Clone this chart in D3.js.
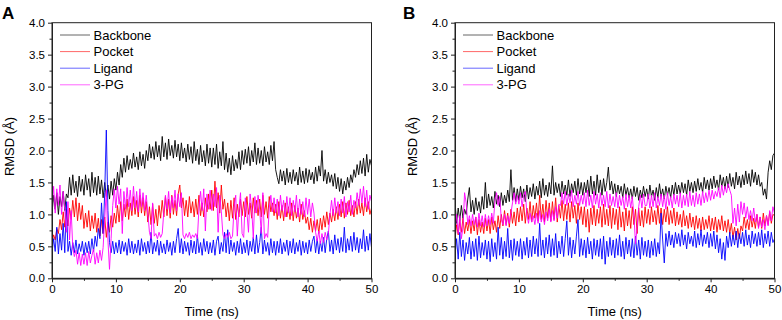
<!DOCTYPE html>
<html><head><meta charset="utf-8">
<script src="https://cdn.jsdelivr.net/npm/d3@7"></script>
<style>
body{margin:0;background:#fff}
svg{display:block}
text{font-family:"Liberation Sans",Arial,Helvetica,sans-serif;fill:#000}
</style>
</head><body>
<svg id="chart" width="782" height="320"></svg>
<script>
// ---------------- DATA ----------------
const seriesNames = ["Backbone", "Pocket", "Ligand", "3-PG"];
const seriesColors = ["#000000", "#ff0000", "#0000ff", "#ff00ff"];
const panelLabels = ["A", "B"];
const xTickValues = [0, 10, 20, 30, 40, 50];
const xMinorTicks = [5, 15, 25, 35, 45];
const yTickValues = [0, 0.5, 1.0, 1.5, 2.0, 2.5, 3.0, 3.5, 4.0];
const yMinorTicks = [0.25, 0.75, 1.25, 1.75, 2.25, 2.75, 3.25, 3.75];
const timeStart = 0, timeEnd = 50;   // ns, samples evenly spaced (0.25 ns)

// Panel A
const aBackbone = [
1.02,1.30,1.08,1.34,1.00,1.28,1.12,1.36,1.06,1.32,
1.26,1.58,1.30,1.62,1.34,1.52,1.28,1.60,1.36,1.55,
1.30,1.62,1.38,1.56,1.28,1.66,1.34,1.58,1.30,1.60,
1.32,1.54,1.26,1.50,1.28,1.46,1.24,1.52,1.30,1.56,
1.38,1.66,1.46,1.78,1.58,1.88,1.66,1.92,1.70,1.86,
1.72,1.96,1.74,1.90,1.70,1.98,1.76,1.94,1.72,2.00,
1.84,2.10,1.88,2.06,1.86,2.14,1.90,2.08,1.84,2.22,
1.90,2.12,1.86,2.18,1.92,2.08,1.88,2.16,1.90,2.10,
1.84,2.12,1.88,2.04,1.82,2.10,1.86,2.06,1.80,2.14,
1.84,2.02,1.78,2.08,1.82,2.00,1.76,2.10,1.80,2.04,
1.74,2.04,1.78,2.10,1.72,1.98,1.76,2.14,1.70,1.96,
1.66,1.88,1.62,1.92,1.68,1.86,1.72,1.98,1.70,2.00,
1.78,2.02,1.80,2.06,1.76,2.00,1.82,2.12,1.78,2.04,
1.80,2.00,1.76,2.06,1.82,1.98,1.78,2.08,1.84,2.14,
1.70,1.58,1.48,1.70,1.52,1.68,1.46,1.72,1.50,1.66,
1.48,1.70,1.52,1.66,1.46,1.74,1.50,1.68,1.48,1.72,
1.50,1.70,1.54,1.66,1.48,1.74,1.52,1.76,1.60,2.00,
1.52,1.70,1.48,1.66,1.50,1.62,1.44,1.64,1.40,1.58,
1.36,1.56,1.32,1.52,1.38,1.58,1.42,1.62,1.50,1.70,
1.58,1.78,1.62,1.84,1.64,1.88,1.60,1.94,1.66,1.86,
1.76];
const aPocket = [
0.55,0.68,0.60,0.78,0.70,0.92,0.76,1.04,0.80,1.08,
0.82,1.10,0.92,1.22,0.96,1.26,0.90,1.18,0.92,1.14,
0.78,1.02,0.80,1.06,0.74,0.98,0.78,1.02,0.72,0.94,
0.66,0.92,0.70,0.96,0.64,0.88,0.72,0.98,0.80,1.02,
0.86,1.14,0.88,1.20,0.90,1.16,0.96,1.24,0.92,1.18,
0.98,1.28,1.00,1.22,0.96,1.30,1.02,1.26,0.98,1.20,
0.88,1.12,0.84,1.16,0.86,1.08,0.82,1.14,0.94,1.22,
0.96,1.28,0.98,1.24,0.94,1.30,1.00,1.22,0.98,1.32,
1.46,1.10,1.26,0.98,1.22,0.96,1.28,1.02,1.20,0.96,
1.24,1.00,1.30,0.98,1.18,0.96,1.26,1.04,1.32,1.08,
1.38,1.06,1.52,1.10,1.34,1.02,1.46,1.08,1.24,0.96,
1.18,0.90,1.22,0.94,1.26,0.92,1.16,0.96,1.24,0.98,
1.20,0.96,1.28,1.00,1.18,0.94,1.26,1.02,1.22,0.98,
1.24,0.96,1.30,1.00,1.20,0.94,1.28,1.04,1.18,0.98,
1.16,0.92,1.20,0.94,1.14,0.90,1.18,0.96,1.12,0.92,
1.18,0.90,1.14,0.94,1.10,0.88,1.16,0.92,1.06,0.86,
0.96,0.76,0.94,0.72,0.90,0.74,0.92,0.70,0.94,0.76,
0.98,0.80,1.04,0.84,1.02,0.88,1.08,0.90,1.12,0.92,
1.16,0.96,1.20,0.94,1.18,1.00,1.22,0.98,1.14,0.96,
1.20,1.00,1.24,1.02,1.18,0.98,1.26,1.04,1.20,1.00,
1.10];
const aLigand = [
0.40,0.62,0.42,0.80,0.38,0.70,0.44,0.86,0.40,1.20,
0.42,0.58,0.36,0.56,0.40,0.60,0.38,0.54,0.42,0.58,
0.36,0.56,0.40,0.58,0.38,0.62,0.42,0.66,0.50,0.78,
0.62,1.18,0.70,1.34,2.32,1.06,0.56,0.40,0.58,0.38,
0.56,0.40,0.60,0.38,0.58,0.42,0.56,0.36,0.62,0.40,
0.58,0.38,0.54,0.40,0.60,0.36,0.62,0.42,0.56,0.38,
0.58,0.40,0.72,0.38,0.56,0.42,0.60,0.36,0.58,0.40,
0.54,0.38,0.60,0.42,0.56,0.36,0.58,0.40,0.62,0.78,
0.40,0.62,0.38,0.58,0.42,0.56,0.36,0.60,0.40,0.58,
0.38,0.68,0.40,0.56,0.36,0.62,0.42,0.58,0.38,0.56,
0.40,0.60,0.36,0.58,0.66,0.38,0.56,0.42,0.72,0.40,
0.76,0.38,0.60,0.42,0.56,0.36,0.58,0.40,0.62,0.38,
0.56,0.40,0.60,0.36,0.58,0.42,0.64,0.38,0.68,0.40,
0.56,0.80,0.38,0.60,0.42,0.56,0.36,0.62,0.40,0.58,
0.36,0.58,0.40,0.62,0.38,0.56,0.42,0.60,0.36,0.58,
0.40,0.62,0.38,0.56,0.42,0.60,0.36,0.58,0.40,0.56,
0.38,0.60,0.42,0.58,0.66,0.40,0.62,0.38,0.58,0.42,
0.64,0.40,0.62,0.74,0.42,0.60,0.38,0.68,0.44,0.62,
0.40,0.64,0.42,0.80,0.40,0.62,0.44,0.66,0.42,0.72,
0.44,0.64,0.40,0.62,0.46,0.76,0.42,0.66,0.44,0.70,
0.48];
const aPG = [
1.10,1.44,1.02,1.40,1.14,1.46,1.00,1.36,1.08,0.72,
1.20,0.60,1.06,0.48,0.34,0.44,0.22,0.40,0.20,0.38,
0.22,0.40,0.20,0.42,0.24,0.36,0.46,0.22,0.40,0.24,
0.44,0.28,0.48,0.94,1.38,0.60,0.14,0.62,1.14,1.40,
1.10,1.44,1.16,1.40,0.70,1.36,1.08,1.42,1.12,1.38,
1.06,1.44,1.10,1.36,1.04,1.40,1.12,1.34,1.06,1.30,
1.02,0.72,0.62,1.18,0.66,0.70,0.62,0.72,0.64,0.70,
1.04,1.30,1.08,1.36,1.02,1.28,1.10,1.38,1.06,1.32,
1.12,1.34,0.68,0.62,0.70,0.64,0.72,0.62,0.68,0.64,
0.70,0.62,1.10,1.36,1.06,1.40,0.74,1.32,1.08,1.38,
1.06,1.32,1.12,1.42,0.72,1.30,1.04,0.68,0.62,0.70,
0.64,0.72,0.62,0.66,1.12,1.30,0.66,1.08,1.34,0.70,
0.64,1.26,1.04,0.72,1.32,1.10,0.62,1.28,1.02,1.30,
1.08,0.70,1.34,0.62,0.70,0.64,1.10,1.30,1.04,1.26,
1.02,1.24,0.98,1.30,1.06,1.22,0.96,1.28,1.02,1.26,
0.98,1.22,1.04,1.30,0.96,1.24,1.00,1.20,0.96,1.26,
1.00,1.24,0.96,1.18,1.02,0.72,0.58,0.74,0.54,0.70,
0.56,0.72,0.60,0.70,1.00,1.22,0.98,1.26,1.02,1.20,
0.98,1.24,1.02,1.28,0.96,1.20,1.04,1.30,1.00,1.22,
1.10,1.34,1.14,1.40,1.18,1.44,1.12,1.38,1.08,1.30,
1.20];

// Panel B
const bBackbone = [
1.20,0.86,1.10,0.90,1.14,0.94,1.08,1.00,1.24,1.42,
1.04,1.22,1.00,1.26,1.06,1.20,1.02,1.28,1.08,1.50,
1.10,1.32,1.14,1.28,1.10,1.36,1.16,1.30,1.12,1.34,
1.14,1.30,1.18,1.38,1.20,1.70,1.22,1.42,1.20,1.40,
1.22,1.44,1.26,1.40,1.20,1.46,1.24,1.42,1.28,1.48,
1.24,1.44,1.30,1.52,1.26,1.56,1.30,1.46,1.28,1.50,
1.32,1.76,1.30,1.50,1.34,1.48,1.28,1.52,1.32,1.46,
1.30,1.54,1.28,1.48,1.34,1.52,1.30,1.56,1.32,1.50,
1.30,1.50,1.34,1.54,1.28,1.60,1.32,1.52,1.30,1.62,
1.34,1.54,1.30,1.56,1.36,1.50,1.74,1.38,1.52,1.32,
1.48,1.28,1.46,1.32,1.44,1.26,1.48,1.30,1.42,1.26,
1.40,1.24,1.44,1.28,1.42,1.22,1.38,1.26,1.44,1.28,
1.40,1.24,1.46,1.28,1.38,1.22,1.42,1.26,1.48,1.28,
1.40,1.24,1.44,1.30,1.42,1.26,1.46,1.30,1.50,1.32,
1.46,1.32,1.50,1.34,1.48,1.30,1.54,1.36,1.50,1.34,
1.52,1.36,1.56,1.38,1.50,1.34,1.58,1.40,1.54,1.38,
1.56,1.40,1.60,1.42,1.54,1.38,1.62,1.44,1.58,1.40,
1.60,1.42,1.64,1.44,1.58,1.40,1.66,1.46,1.60,1.42,
1.62,1.46,1.68,1.48,1.64,1.44,1.70,1.50,1.66,1.46,
1.62,1.44,1.50,1.30,1.40,1.24,1.66,1.84,1.70,1.92,
1.96];
const bPocket = [
0.62,0.84,0.68,0.90,0.72,0.94,0.70,0.88,0.74,0.92,
0.70,0.90,0.74,0.96,0.68,0.92,0.72,0.88,0.70,0.94,
0.74,0.92,0.70,0.96,0.76,0.90,0.72,0.98,0.78,1.00,
0.82,1.06,0.84,1.02,0.80,1.08,0.86,1.04,0.82,1.10,
0.88,1.12,0.90,1.16,0.86,1.10,0.92,1.20,0.88,1.14,
0.94,1.18,0.90,1.30,0.92,1.16,0.88,1.22,0.94,1.18,
0.90,1.20,0.92,1.26,0.88,1.14,0.94,1.22,0.90,1.16,
0.92,1.18,0.88,1.20,0.94,1.14,0.86,1.18,0.92,1.12,
0.84,1.12,0.80,1.08,0.72,1.10,0.84,1.14,0.82,1.08,
0.86,1.12,0.80,1.16,0.84,1.08,0.82,1.14,0.78,1.10,
0.84,1.08,0.76,1.12,0.80,1.04,0.74,1.10,0.82,1.06,
0.78,1.12,0.84,1.08,0.70,1.10,0.82,1.06,0.80,1.12,
0.86,1.08,0.84,1.12,0.88,1.06,0.84,1.14,0.86,1.10,
0.84,1.08,0.88,1.12,0.84,1.06,0.86,1.10,0.82,1.04,
0.84,1.00,0.80,1.06,0.82,0.98,0.78,1.02,0.80,0.96,
0.76,0.98,0.78,0.94,0.74,0.96,0.76,0.92,0.78,0.98,
0.74,0.94,0.76,0.96,0.72,0.92,0.76,0.98,0.74,0.90,
0.72,0.92,0.70,0.86,0.64,0.80,0.60,0.78,0.62,0.82,
0.74,0.96,0.78,0.92,0.76,0.98,0.80,0.94,0.78,1.00,
0.80,0.96,0.78,1.02,0.82,0.98,0.84,1.04,0.86,1.00,
0.98];
const bLigand = [
0.36,0.62,0.30,0.72,0.34,0.60,0.28,0.56,0.38,0.64,
0.30,0.58,0.34,0.62,0.28,0.66,0.32,0.56,0.36,0.60,
0.30,0.58,0.26,0.62,0.34,0.56,0.30,0.80,0.36,0.64,
0.30,0.58,0.34,0.78,0.32,0.60,0.28,0.62,0.36,0.58,
0.34,0.62,0.30,0.58,0.36,0.64,0.32,0.60,0.34,0.66,
0.38,0.62,0.34,0.86,0.36,0.60,0.32,0.64,0.38,0.68,
0.34,0.62,0.36,0.70,0.32,0.58,0.38,0.66,0.34,0.62,
0.90,0.36,0.64,0.32,0.60,0.38,0.66,0.92,0.34,0.62,
0.36,0.60,0.32,0.64,0.38,0.58,0.30,0.62,0.36,0.60,
0.34,0.62,0.30,0.66,0.22,0.58,0.34,0.64,0.36,0.60,
0.32,0.62,0.36,0.68,0.34,0.58,0.30,0.64,0.38,0.60,
0.34,0.62,0.32,0.66,0.36,0.60,0.30,0.64,0.36,0.58,
0.34,0.60,0.32,0.58,0.36,0.62,0.34,0.56,0.38,1.02,
0.60,0.24,0.70,0.50,0.74,0.52,0.68,0.48,0.72,0.54,
0.70,0.50,0.76,0.52,0.68,0.46,0.72,0.54,0.66,0.50,
0.74,0.48,0.70,0.52,0.76,0.50,0.68,0.54,0.72,0.48,
0.70,0.50,0.74,0.46,0.68,0.40,0.62,0.30,0.56,0.28,
0.66,0.48,0.72,0.50,0.68,0.52,0.74,0.48,0.70,0.54,
0.72,0.50,0.76,0.52,0.68,0.48,0.74,0.54,0.70,0.50,
0.72,0.52,0.76,0.48,0.70,0.54,0.74,0.50,0.72,0.56,
0.62];
const bPG = [
0.74,1.00,0.70,0.98,0.62,0.80,1.34,1.18,0.84,0.98,
0.82,1.00,0.84,0.96,0.80,1.02,0.82,0.98,0.80,1.00,
0.82,0.98,0.84,1.02,0.86,1.22,1.34,1.14,1.28,0.92,
0.84,1.00,0.82,0.98,0.86,1.02,1.18,1.34,1.16,1.30,
1.16,1.34,1.12,1.30,1.36,1.00,0.86,1.02,0.88,0.98,
0.84,1.02,0.86,1.06,0.88,1.00,0.84,1.04,0.90,1.08,
0.88,1.06,0.90,1.12,0.94,1.16,1.14,1.34,1.16,1.36,
1.14,1.32,1.18,1.38,1.12,1.30,1.16,1.36,1.14,1.30,
1.16,1.34,1.12,1.38,1.14,1.30,1.10,1.36,1.16,1.32,
1.10,1.34,1.14,1.30,1.12,1.36,1.10,1.32,1.14,1.28,
1.12,1.34,1.10,1.30,1.14,1.28,1.08,1.32,1.12,1.30,
1.10,1.28,0.98,0.54,0.80,1.12,1.30,1.10,1.32,1.14,
1.14,1.32,1.10,1.30,1.12,1.34,1.10,1.28,1.14,1.32,
1.12,1.30,1.08,1.34,1.14,1.28,1.10,1.32,1.16,1.30,
1.12,1.34,1.10,1.30,1.14,1.32,1.12,1.36,1.14,1.30,
1.12,1.34,1.16,1.32,1.14,1.36,1.18,1.34,1.20,1.38,
1.22,1.38,1.24,1.36,1.28,1.42,1.26,1.46,1.30,1.44,
1.34,1.48,1.38,1.30,0.86,1.10,0.82,1.16,0.88,1.20,
1.00,1.18,0.94,1.12,0.92,1.06,0.90,1.10,0.88,1.00,
0.78,0.96,0.80,0.92,0.76,0.98,0.82,1.06,0.90,1.12,
1.02];

const panelSeries = [
  [aBackbone, aPocket, aLigand, aPG],
  [bBackbone, bPocket, bLigand, bPG]
];

// ---------------- DRAW ----------------
const svg = d3.select("#chart");
const plotTop = 22.7, plotBottom = 278.3;
const panels = [
  {left: 52, right: 371.5, labelX: 2, titleX: 14},
  {left: 455, right: 774.5, labelX: 403, titleX: 417}
];
const axisColor = "#222";

panels.forEach((p, pi) => {
  const x = d3.scaleLinear().domain([timeStart, timeEnd]).range([p.left, p.right]);
  const y = d3.scaleLinear().domain([0, 4]).range([plotBottom, plotTop]);
  const g = svg.append("g");

  const clipId = "clip" + pi;
  svg.append("clipPath").attr("id", clipId).append("rect")
    .attr("x", p.left).attr("y", plotTop).attr("width", p.right - p.left).attr("height", plotBottom - plotTop);
  const lg = g.append("g").attr("clip-path", `url(#${clipId})`);
  panelSeries[pi].forEach((vals, si) => {
    const n = vals.length;
    const line = d3.line()
      .x((d, i) => x(timeStart + i * (timeEnd - timeStart) / (n - 1)))
      .y(d => y(d));
    lg.append("path").datum(vals)
      .attr("d", line)
      .attr("fill", "none")
      .attr("stroke", seriesColors[si])
      .attr("stroke-width", 0.9)
      .attr("stroke-linejoin", "round");
  });

  g.append("rect").attr("x", p.left).attr("y", plotTop)
    .attr("width", p.right - p.left).attr("height", plotBottom - plotTop)
    .attr("fill", "none").attr("stroke", axisColor).attr("stroke-width", 1);

  const xAxis = d3.axisBottom(x).tickValues(xTickValues).tickSizeInner(4).tickSizeOuter(0).tickPadding(3).tickFormat(d3.format("d"));
  const xMinor = d3.axisBottom(x).tickValues(xMinorTicks).tickSizeInner(2.5).tickSizeOuter(0).tickFormat("");
  const yAxis = d3.axisLeft(y).tickValues(yTickValues).tickSizeInner(4).tickSizeOuter(0).tickPadding(3).tickFormat(d3.format(".1f"));
  const yMinor = d3.axisLeft(y).tickValues(yMinorTicks).tickSizeInner(2.5).tickSizeOuter(0).tickFormat("");

  [[xAxis, `translate(0,${plotBottom})`], [xMinor, `translate(0,${plotBottom})`],
   [yAxis, `translate(${p.left},0)`], [yMinor, `translate(${p.left},0)`]].forEach(([ax, tr]) => {
    const a = g.append("g").attr("transform", tr).call(ax);
    a.select(".domain").attr("stroke", axisColor);
    a.selectAll(".tick line").attr("stroke", axisColor);
    a.selectAll("text").attr("font-size", "11.5px").attr("font-family", '"Liberation Sans",Arial,sans-serif').attr("fill", "#000");
  });

  g.append("text")
    .attr("x", (p.left + p.right) / 2).attr("y", 315.5)
    .attr("text-anchor", "middle").attr("font-size", "13px")
    .text("Time (ns)");
  g.append("text")
    .attr("transform", `translate(${p.titleX},${(plotTop + plotBottom) / 2 - 4}) rotate(-90)`)
    .attr("text-anchor", "middle").attr("font-size", "13px")
    .text("RMSD (Å)");

  g.append("text").attr("x", p.labelX).attr("y", 19)
    .attr("font-size", "17px").attr("font-weight", "bold")
    .text(panelLabels[pi]);

  const lx = p.left + 8, ly0 = 35, dy = 16.6;
  seriesNames.forEach((name, si) => {
    const yy = ly0 + si * dy;
    g.append("line").attr("x1", lx).attr("x2", lx + 30).attr("y1", yy).attr("y2", yy)
      .attr("stroke", seriesColors[si]).attr("stroke-width", 1).attr("stroke-opacity", 0.6);
    g.append("text").attr("x", lx + 33.5).attr("y", yy + 4.5)
      .attr("font-size", "13px").text(name);
  });
});
</script>
</body></html>
